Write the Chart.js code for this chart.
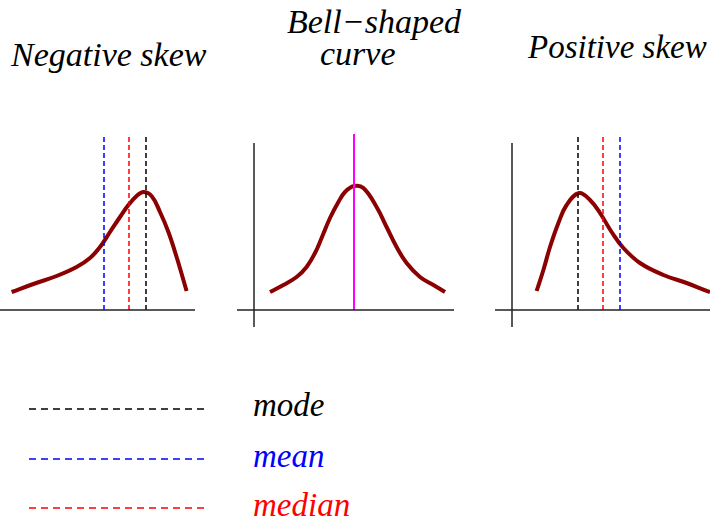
<!DOCTYPE html>
<html>
<head>
<meta charset="utf-8">
<script src="https://cdn.jsdelivr.net/npm/chart.js@4.4.1/dist/chart.umd.min.js"></script>
<style>
  body { margin: 0; width: 710px; height: 519px; background: #fff; position: relative; overflow: hidden;
         font-family: 'Liberation Serif', 'DejaVu Serif', serif; font-style: italic; }
  canvas { position: absolute; }
  .txt { position: absolute; white-space: nowrap; }
</style>
</head>
<body>
<canvas id="neg" width="230" height="200" style="left:0;top:130px"></canvas>
<canvas id="bell" width="240" height="200" style="left:230px;top:130px"></canvas>
<canvas id="pos" width="230" height="200" style="left:480px;top:130px"></canvas>
<canvas id="key" width="200" height="120" style="left:20px;top:395px"></canvas>
<div id="labels"></div>
<script>
// curve samples (x in panel units, y as density)
const negX = [0.83, 1.92, 3.08, 4.08, 4.75, 5.25, 5.75, 6.25, 6.67, 7.08, 7.42, 7.83, 8.25, 8.67, 9.08, 9.58];
const negY = [0.18, 0.26, 0.34, 0.43, 0.52, 0.63, 0.78, 0.93, 1.05, 1.14, 1.18, 1.14, 0.98, 0.78, 0.53, 0.19];
const bellX = [0.8, 1.47, 2.13, 2.63, 3.05, 3.38, 3.8, 4.22, 4.55, 5.0, 5.47, 6.13, 6.63, 7.13, 7.63, 8.3, 8.97, 9.55];
const bellY = [0.18, 0.25, 0.33, 0.43, 0.57, 0.72, 0.92, 1.08, 1.18, 1.24, 1.22, 1.03, 0.83, 0.63, 0.47, 0.33, 0.25, 0.18];
const posX = [1.23, 1.57, 1.9, 2.32, 2.73, 3.35, 3.9, 4.4, 4.98, 5.57, 6.4, 7.57, 8.73, 9.9, 10.5];
const posY = [0.19, 0.40, 0.63, 0.87, 1.05, 1.17, 1.10, 0.97, 0.78, 0.62, 0.47, 0.35, 0.27, 0.18, 0.15];

// mean, median, mode positions
const negStats = [5.45, 6.7, 7.55];
const bellStats = [5.0, 5.0, 5.0];
const posStats = [5.4, 4.55, 3.3];

const statNames = ['mode', 'mean', 'median'];
const statColors = ['#000000', '#0000ff', '#ff0000'];
const titles = ['Negative skew', 'Bell\u2212shaped', 'curve', 'Positive skew'];

const markTop = 1.76;
const yRange = [-0.2, 1.8];

function pts(xs, ys) {
  return xs.map((x, i) => ({ x: x, y: ys[i] }));
}

function vline(x, color, dashed) {
  return {
    data: [{ x: x, y: 0 }, { x: x, y: markTop }],
    borderColor: color, borderWidth: dashed ? 1.5 : 2,
    borderDash: dashed ? [5, 3] : [], showLine: true, pointRadius: 0
  };
}

function makePanel(id, xs, ys, xMin, xMax, axisEnd, marks) {
  const datasets = [
    { data: [{ x: -0.85, y: 0 }, { x: axisEnd, y: 0 }], borderColor: '#222', borderWidth: 1.5, showLine: true, pointRadius: 0 },
    { data: [{ x: 0, y: -0.17 }, { x: 0, y: 1.67 }], borderColor: '#222', borderWidth: 1.5, showLine: true, pointRadius: 0 }
  ].concat(marks).concat([{
    data: pts(xs, ys), borderColor: '#8b0000', borderWidth: 4,
    showLine: true, pointRadius: 0, tension: 0.4
  }]);
  new Chart(document.getElementById(id), {
    type: 'scatter',
    data: { datasets: datasets },
    options: {
      responsive: false, animation: false, devicePixelRatio: 1,
      layout: { padding: 0 },
      plugins: { legend: { display: false }, tooltip: { enabled: false } },
      scales: {
        x: { type: 'linear', min: xMin, max: xMax, display: false },
        y: { type: 'linear', min: yRange[0], max: yRange[1], display: false }
      }
    }
  });
}

makePanel('neg', negX, negY, 0.25, 11.75, 10,
  [vline(negStats[0], statColors[1], true), vline(negStats[1], statColors[2], true), vline(negStats[2], statColors[0], true)]);
makePanel('bell', bellX, bellY, -1.2, 10.8, 10, [vline(bellStats[0], '#ff00ff', false)]);
makePanel('pos', posX, posY, -1.6, 9.9, 10.5,
  [vline(posStats[2], statColors[0], true), vline(posStats[1], statColors[2], true), vline(posStats[0], statColors[1], true)]);

// key lines
const ctx = document.getElementById('key').getContext('2d');
const keyRows = [14, 64, 113];
ctx.lineWidth = 1.5;
ctx.setLineDash([7, 5]);
statColors.forEach((c, i) => {
  ctx.strokeStyle = c;
  ctx.beginPath();
  ctx.moveTo(9, keyRows[i]);
  ctx.lineTo(185, keyRows[i]);
  ctx.stroke();
});

// titles and key text
const holder = document.getElementById('labels');
function addText(text, left, top, size, color) {
  const d = document.createElement('div');
  d.className = 'txt';
  d.textContent = text;
  d.style.left = left + 'px';
  d.style.top = top + 'px';
  d.style.fontSize = size + 'px';
  d.style.lineHeight = size + 'px';
  d.style.color = color || '#000';
  holder.appendChild(d);
}
addText(titles[0], 11, 38, 34);
addText(titles[1], 287, 5, 34);
addText(titles[2], 320, 37, 34);
addText(titles[3], 528, 31, 33);

const keyTops = [389, 440, 489];
statNames.forEach((name, i) => addText(name, 253, keyTops[i], 33, statColors[i]));
</script>
</body>
</html>
